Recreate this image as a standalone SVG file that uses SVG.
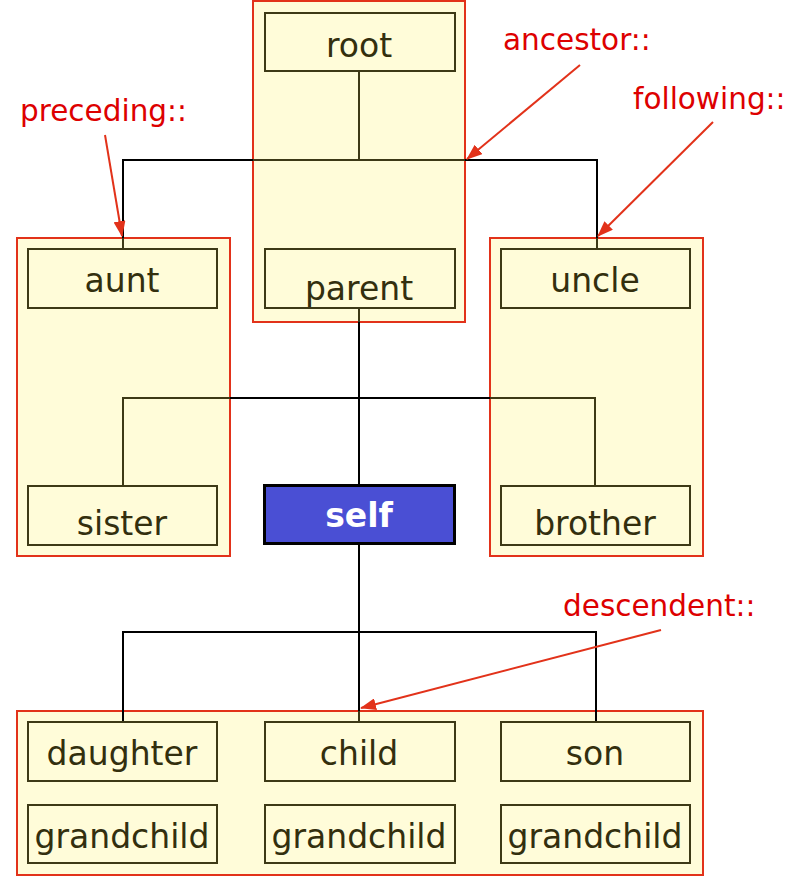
<svg xmlns="http://www.w3.org/2000/svg" width="808" height="877" viewBox="0 0 808 877">
<style>
.grp{fill:#fffcd9;stroke:#e2321a;stroke-width:2}
.box{fill:#fffcd9;stroke:#3d3916;stroke-width:2}
.lbl{font-family:"DejaVu Sans",Verdana,sans-serif;font-size:33px;fill:#332f0e;text-anchor:middle}
.ax{font-family:"DejaVu Sans",sans-serif;font-size:29.5px;fill:#dd0000}
.ln{stroke:#000;stroke-width:2;fill:none}
.li{stroke:#3d3916;stroke-width:2;fill:none}
.ar{stroke:#e2321a;stroke-width:2;fill:none;marker-end:url(#ah)}
</style>
<defs>
<marker id="ah" viewBox="0 0 16 12" refX="15" refY="6" markerWidth="16" markerHeight="12" markerUnits="userSpaceOnUse" orient="auto">
<path d="M0,0 L16,6 L0,12 z" fill="#e2321a"/>
</marker>
</defs>
<rect width="808" height="877" fill="#fff"/>
<g id="groups">
<rect class="grp" x="253" y="1" width="212" height="321"/>
<rect class="grp" x="17" y="238" width="213" height="318"/>
<rect class="grp" x="490" y="238" width="213" height="318"/>
<rect class="grp" x="17" y="711" width="686" height="164"/>
</g>
<g id="connectors">
<path class="li" d="M359,71 V160 M253,160 H465"/>
<path class="ln" d="M253,160 H123 V238 M465,160 H597 V238"/>
<path class="li" d="M123,238 V248 M597,238 V248 M359,308 V322"/>
<path class="ln" d="M359,322 V484 M230,398 H490"/>
<path class="li" d="M230,398 H123 V486 M490,398 H595 V486"/>
<path class="ln" d="M359,544 V711 M123,722 V632 H596 V722"/>
<path class="li" d="M359,711 V722"/>
<path class="ar" d="M105,135 L122,236"/>
<path class="ar" d="M580,65 L467,159"/>
<path class="ar" d="M713,122 L598,236"/>
<path class="ar" d="M661,630 L361,708"/>
</g>
<g id="root"><rect class="box" x="265" y="13" width="190" height="58"/><text class="lbl" x="359" y="57">root</text></g>
<g id="parent"><rect class="box" x="265" y="249" width="190" height="59"/><text class="lbl" x="359" y="300">parent</text></g>
<g id="aunt"><rect class="box" x="28" y="249" width="189" height="59"/><text class="lbl" x="122" y="292">aunt</text></g>
<g id="uncle"><rect class="box" x="501" y="249" width="189" height="59"/><text class="lbl" x="595" y="292">uncle</text></g>
<g id="sister"><rect class="box" x="28" y="486" width="189" height="59"/><text class="lbl" x="122" y="535">sister</text></g>
<g id="brother"><rect class="box" x="501" y="486" width="189" height="59"/><text class="lbl" x="595" y="535">brother</text></g>
<g id="self"><rect x="264.5" y="485.5" width="190" height="58" fill="#4a4fd4" stroke="#000" stroke-width="3"/><text class="lbl" x="359" y="527" style="fill:#fff;font-weight:bold">self</text></g>
<g id="daughter"><rect class="box" x="28" y="722" width="189" height="59"/><text class="lbl" x="122" y="765">daughter</text></g>
<g id="child"><rect class="box" x="265" y="722" width="190" height="59"/><text class="lbl" x="359" y="765">child</text></g>
<g id="son"><rect class="box" x="501" y="722" width="189" height="59"/><text class="lbl" x="595" y="765">son</text></g>
<g id="grandchild1"><rect class="box" x="28" y="805" width="189" height="58"/><text class="lbl" x="122" y="848">grandchild</text></g>
<g id="grandchild2"><rect class="box" x="265" y="805" width="190" height="58"/><text class="lbl" x="359" y="848">grandchild</text></g>
<g id="grandchild3"><rect class="box" x="501" y="805" width="189" height="58"/><text class="lbl" x="595" y="848">grandchild</text></g>
<g id="labels">
<text class="ax" x="20" y="121">preceding::</text>
<text class="ax" x="503" y="50">ancestor::</text>
<text class="ax" x="633" y="109">following::</text>
<text class="ax" x="563" y="616">descendent::</text>
</g>
</svg>
